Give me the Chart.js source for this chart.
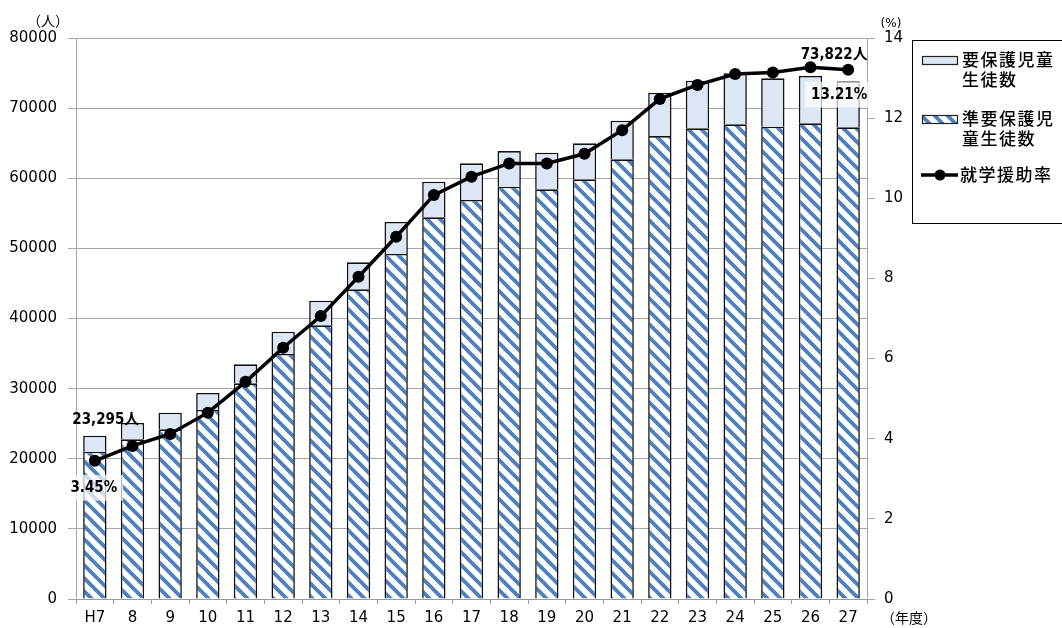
<!DOCTYPE html>
<html><head><meta charset="utf-8">
<script src="https://cdn.jsdelivr.net/npm/chart.js@4"></script>
<style>html,body{margin:0;padding:0;background:#fff}#wrap{width:1062px;height:628px;position:relative}</style>
</head><body><div id="wrap"><canvas id="c" width="1062" height="628"></canvas></div>
<script>
const categories = ['H7','8','9','10','11','12','13','14','15','16','17','18','19','20','21','22','23','24','25','26','27'];
// 要保護児童生徒数 (upper segment)
const yohogo = [2290,2325,2370,2425,2710,3180,3510,3850,4560,5080,5230,5090,5220,5130,5500,6170,6790,7270,6900,6750,6558];
// 準要保護児童生徒数 (lower segment)
const junYohogo = [21005,22770,24200,26950,30760,34940,39030,44160,49200,54430,56900,58790,58420,59850,62700,66020,67120,67690,67350,67830,67264];
// 就学援助率 (%)
const rate = [3.45,3.82,4.12,4.65,5.42,6.27,7.06,8.04,9.04,10.08,10.54,10.87,10.87,11.11,11.70,12.48,12.83,13.10,13.14,13.27,13.21];
const leftAxis = {min:0, max:80000, step:10000};
const rightAxis = {min:0, max:14, step:2};
const legendItems = [['要保護児童','生徒数'],['準要保護児','童生徒数'],['就学援助率']];
const unitLeft = '（人）', unitRight = '(%)', unitX = '（年度）';

const NUMFONT = "'DejaVu Sans', sans-serif";
const JPFONT = "'Noto Sans CJK JP', sans-serif";
const LBLFONT = "'DejaVu Sans Condensed','DejaVu Sans','Noto Sans CJK JP', sans-serif";

function makeHatch(){
  const s = 13, cv = document.createElement('canvas');
  cv.width = s; cv.height = s;
  const g = cv.getContext('2d');
  g.fillStyle = '#ffffff'; g.fillRect(0,0,s,s);
  g.strokeStyle = '#4F81BD'; g.lineWidth = 3.8;
  g.beginPath();
  g.moveTo(-s,-s); g.lineTo(2*s,2*s);
  g.moveTo(-s,0); g.lineTo(s,2*s);
  g.moveTo(0,-s); g.lineTo(2*s,s);
  g.stroke();
  return g.createPattern(cv,'repeat');
}
const ctx0 = document.getElementById('c').getContext('2d');
const hatch = makeHatch();
const lightBlue = '#DCE6F4';

const overlay = {
  id:'overlay',
  afterDatasetsDraw(chart){
    const ctx = chart.ctx;
    const topMeta = chart.getDatasetMeta(1);
    const lineMeta = chart.getDatasetMeta(2);
    ctx.save();
    const last = categories.length-1;
    const fmt = v => v.toLocaleString('en-US');
    ctx.textAlign='center'; ctx.textBaseline='middle';
    ctx.font = 'bold 15px ' + LBLFONT;
    ctx.fillStyle='#000';
    let b0 = topMeta.data[0];
    ctx.fillText(fmt(yohogo[0]+junYohogo[0])+'人', b0.x+11, b0.y-16);
    let bl = topMeta.data[last];
    ctx.fillText(fmt(yohogo[last]+junYohogo[last])+'人', bl.x-14, bl.y-26);
    const drawRate = (i, dx, dy) => {
      const p = lineMeta.data[i];
      const t = rate[i].toFixed(2)+'%';
      const w = ctx.measureText(t).width;
      ctx.fillStyle='rgba(255,255,255,0.7)';
      ctx.fillRect(p.x+dx-w/2-6, p.y+dy-13, w+12, 26);
      ctx.fillStyle='#000';
      ctx.fillText(t, p.x+dx, p.y+dy);
    };
    drawRate(0, -1, 27);
    drawRate(last, -9, 25);
    ctx.restore();
  },
  afterDraw(chart){
    const ctx = chart.ctx;
    ctx.save();
    ctx.fillStyle='#000'; ctx.textBaseline='middle';
    ctx.font = '14px ' + JPFONT; ctx.textAlign='center';
    ctx.fillText(unitLeft, 48, 21);
    ctx.font = '12px ' + NUMFONT;
    ctx.fillText(unitRight, 891, 24);
    ctx.font = '14px ' + JPFONT; ctx.textAlign='left';
    ctx.fillText(unitX, 881, 618);
    // legend
    ctx.strokeStyle='#000'; ctx.lineWidth=1;
    ctx.strokeRect(912.5, 40.5, 200, 183);
    ctx.fillStyle = lightBlue; ctx.fillRect(922,56,36,8);
    ctx.strokeStyle='#222'; ctx.lineWidth=1.2; ctx.strokeRect(922.5,56.5,35,8);
    ctx.fillStyle = hatch; ctx.fillRect(922,115,36,8);
    ctx.strokeRect(922.5,115.5,35,8);
    ctx.strokeStyle='#000'; ctx.lineWidth=3.5;
    ctx.beginPath(); ctx.moveTo(921,175); ctx.lineTo(958,175); ctx.stroke();
    ctx.fillStyle='#000'; ctx.beginPath(); ctx.arc(940,175,5.5,0,Math.PI*2); ctx.fill();
    ctx.font = '500 17px ' + JPFONT; ctx.textAlign='left'; ctx.fillStyle='#000';
    try{ ctx.letterSpacing='1.5px'; }catch(e){}
    const ys = [[60,80],[119,139],[175]];
    legendItems.forEach((lines,i)=>lines.forEach((t,j)=>ctx.fillText(t, i===2?960:962, ys[i][j])));
    ctx.restore();
  }
};

new Chart(ctx0, {
  type:'bar',
  data:{
    labels: categories,
    datasets:[
      {label:'準要保護児童生徒数', data: junYohogo, backgroundColor: hatch, borderColor:'#111', borderWidth:1.6, stack:'s', yAxisID:'y', order:2, barPercentage:0.62, categoryPercentage:1},
      {label:'要保護児童生徒数', data: yohogo, backgroundColor: lightBlue, borderColor:'#111', borderWidth:1.6, stack:'s', yAxisID:'y', order:2, barPercentage:0.62, categoryPercentage:1},
      {type:'line', label:'就学援助率', data: rate, yAxisID:'y1', borderColor:'#000', borderWidth:3.5, pointRadius:6, pointBackgroundColor:'#000', pointBorderColor:'#000', pointBorderWidth:0, tension:0, order:1}
    ]
  },
  options:{
    responsive:false, animation:false,
    layout:{padding:{top:38, right:155, left:0, bottom:0}},
    plugins:{legend:{display:false}, tooltip:{enabled:false}, title:{display:false}},
    scales:{
      x:{stacked:true, offset:true,
        grid:{offset:true, drawOnChartArea:false, tickLength:5, color:'#9a9a9a'},
        border:{color:'#9a9a9a'},
        ticks:{font:{family:NUMFONT, size:15}, color:'#000', padding:5, maxRotation:0, autoSkip:false},
        afterFit(s){ s.height = 29; }
      },
      y:{stacked:true, position:'left', min:leftAxis.min, max:leftAxis.max,
        ticks:{stepSize:leftAxis.step, font:{family:NUMFONT, size:15}, color:'#000', padding:11, callback:v=>String(v)},
        grid:{color:'#a6a6a6', tickLength:8},
        border:{color:'#a6a6a6'},
        afterFit(s){ s.width = 76; }
      },
      y1:{position:'right', min:rightAxis.min, max:rightAxis.max,
        ticks:{stepSize:rightAxis.step, font:{family:NUMFONT, size:15}, color:'#000', padding:9, callback:v=>String(v)},
        grid:{drawOnChartArea:false, tickLength:8, color:'#a6a6a6'},
        border:{color:'#a6a6a6'},
        afterFit(s){ s.width = 40; }
      }
    }
  },
  plugins:[overlay]
});
</script></body></html>
